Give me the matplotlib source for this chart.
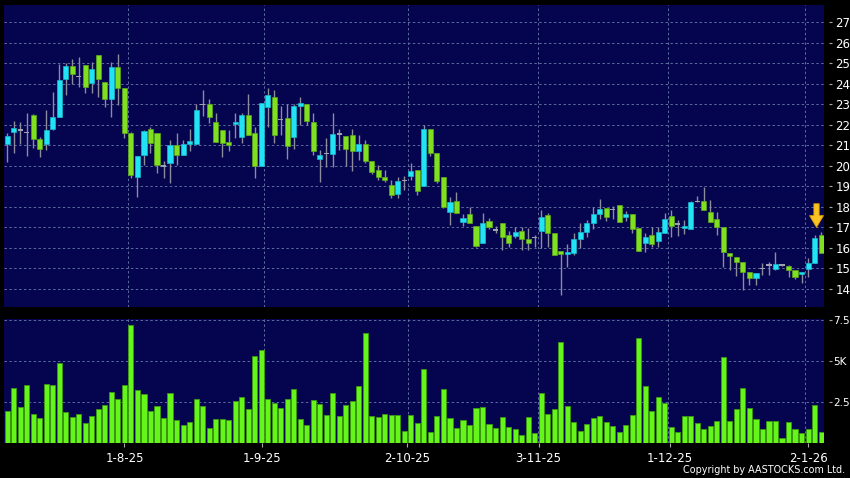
import numpy as np
import matplotlib
matplotlib.use('Agg')
import matplotlib.pyplot as plt

# daily OHLC, 8-Jul-25 .. 6-Jan-26
opens = [21.05, 21.63, 21.74, 21.63, 22.46, 21.29, 21.05, 21.81, 22.36, 24.22,
         24.87, 24.35, 24.92, 24.02, 25.40, 24.07, 23.24, 24.80, 23.78, 21.62,
         19.47, 20.53, 21.78, 21.58, 19.99, 20.12, 21.00, 20.51, 21.05, 21.05,
         23.00, 23.00, 22.12, 21.75, 21.18, 22.02, 21.39, 22.48, 21.62, 19.99,
         22.88, 23.37, 22.27, 22.32, 21.39, 22.92, 23.00, 22.15, 20.32, 20.61,
         20.58, 21.55, 21.45, 21.50, 20.74, 21.05, 20.23, 19.79, 19.47, 19.06,
         18.62, 19.27, 19.52, 19.79, 19.01, 21.78, 20.64, 19.47, 17.76, 18.30,
         17.27, 17.65, 17.08, 16.25, 17.31, 16.87, 17.19, 16.62, 16.59, 16.80,
         16.41, 16.51, 16.83, 17.60, 16.74, 15.84, 15.70, 15.76, 16.41, 16.75,
         17.19, 17.63, 17.96, 17.88, 18.07, 17.49, 17.63, 16.99, 16.25, 16.62,
         16.35, 16.71, 17.55, 17.16, 16.95, 16.90, 18.25, 18.30, 17.76, 17.39,
         17.03, 15.76, 15.57, 15.32, 14.84, 14.51, 14.98, 15.16, 14.98, 15.16,
         15.13, 14.92, 14.71, 14.99, 15.27, 16.62]
highs = [21.62, 22.20, 22.12, 22.56, 22.53, 21.39, 22.72, 23.62, 24.96, 25.00,
         25.19, 25.29, 24.92, 25.08, 25.40, 24.07, 25.08, 25.45, 23.78, 21.66,
         20.48, 21.75, 21.91, 21.58, 20.25, 21.26, 21.62, 21.26, 21.78, 23.00,
         23.70, 23.26, 22.56, 21.75, 21.75, 22.56, 22.56, 23.50, 21.91, 23.08,
         23.78, 23.70, 22.92, 23.02, 23.00, 23.34, 23.00, 22.56, 20.77, 21.34,
         22.59, 21.78, 21.45, 21.78, 21.50, 21.26, 20.23, 20.04, 19.79, 19.31,
         19.47, 19.50, 20.15, 19.79, 21.99, 21.78, 20.64, 19.47, 18.46, 18.74,
         17.65, 18.01, 17.08, 17.68, 17.47, 17.08, 17.19, 16.84, 17.03, 17.03,
         16.95, 16.62, 17.84, 17.71, 16.74, 15.84, 16.19, 16.74, 17.19, 17.36,
         17.97, 18.38, 17.96, 18.04, 18.07, 17.81, 17.63, 16.99, 16.71, 17.03,
         17.03, 17.68, 17.84, 17.36, 17.36, 18.30, 18.52, 18.98, 18.33, 17.76,
         17.03, 15.76, 15.57, 15.32, 14.84, 14.79, 15.24, 15.32, 15.81, 15.19,
         15.16, 14.92, 14.84, 15.49, 16.62, 16.79]
lows = [20.20, 20.64, 21.06, 20.48, 20.85, 20.45, 20.77, 21.75, 22.36, 23.45,
        23.99, 23.86, 23.57, 23.53, 23.37, 22.88, 22.40, 22.97, 21.34, 19.40,
        18.49, 20.04, 20.64, 19.63, 19.39, 19.18, 20.04, 20.51, 20.74, 21.05,
        22.43, 22.10, 21.18, 20.45, 20.74, 21.34, 21.10, 21.50, 19.39, 19.99,
        21.91, 21.10, 21.50, 20.32, 20.80, 21.99, 21.99, 20.53, 19.23, 19.93,
        19.93, 20.77, 19.99, 19.76, 20.28, 20.12, 19.60, 19.31, 19.23, 18.41,
        18.41, 18.82, 19.31, 18.58, 19.01, 20.48, 19.18, 17.92, 17.11, 17.68,
        17.06, 17.19, 16.05, 16.25, 16.90, 16.71, 15.89, 16.05, 16.46, 15.89,
        15.89, 16.05, 15.97, 16.05, 15.63, 13.70, 15.08, 15.65, 15.97, 16.54,
        16.90, 17.39, 17.32, 17.39, 17.27, 17.32, 16.71, 15.86, 15.81, 16.05,
        16.05, 16.71, 16.54, 16.58, 16.67, 16.90, 18.25, 17.84, 17.27, 16.62,
        15.05, 14.92, 14.62, 13.94, 14.19, 14.19, 14.67, 14.67, 14.92, 15.11,
        14.59, 14.50, 14.27, 14.59, 15.27, 15.73]
closes = [21.45, 21.83, 21.74, 21.63, 21.29, 20.80, 21.75, 22.39, 24.18, 24.87,
          24.46, 24.35, 23.86, 24.71, 24.22, 23.24, 24.80, 23.78, 21.62, 19.55,
          20.48, 21.70, 21.10, 20.04, 19.99, 21.00, 20.51, 21.05, 21.21, 22.72,
          23.00, 22.40, 21.18, 21.13, 21.03, 22.12, 22.48, 21.50, 19.99, 23.08,
          23.45, 21.50, 22.27, 20.97, 22.93, 23.05, 22.20, 20.74, 20.53, 20.61,
          21.55, 21.55, 20.80, 20.74, 21.05, 20.23, 19.71, 19.47, 19.31, 18.58,
          19.27, 19.27, 19.75, 18.77, 21.78, 20.64, 19.27, 18.01, 18.22, 17.68,
          17.44, 17.19, 16.09, 17.23, 17.00, 16.87, 16.54, 16.22, 16.75, 16.43,
          16.25, 16.51, 17.52, 16.71, 15.63, 15.70, 15.81, 16.41, 16.75, 17.19,
          17.63, 17.88, 17.49, 17.88, 17.27, 17.63, 16.90, 15.86, 16.51, 16.17,
          16.79, 17.39, 17.06, 17.16, 17.08, 18.25, 18.25, 17.84, 17.27, 17.00,
          15.81, 15.60, 15.32, 14.84, 14.51, 14.79, 14.98, 15.16, 15.22, 15.16,
          14.92, 14.56, 14.84, 15.27, 16.46, 15.76]
volumes = [1952, 3335, 2217, 3518, 1769, 1505, 3579, 3558, 4901, 1891,
           1606, 1749, 1200, 1667, 2074, 2298, 3131, 2684, 3518, 7218,
           3233, 2989, 1952, 2237, 1505, 3030, 1403, 1078, 1301, 2684,
           2257, 935, 1464, 1464, 1383, 2562, 2786, 2094, 5287, 5693,
           2680, 2460, 2145, 2684, 3294, 1443, 1119, 2623, 2359, 1688,
           3050, 1667, 2318, 2542, 3477, 6710, 1647, 1586, 1769, 1688,
           1688, 752, 1708, 1200, 4494, 671, 1667, 3294, 1545, 894,
           1423, 1098, 2135, 2176, 1179, 894, 1586, 976, 854, 508,
           1565, 610, 3050, 1769, 2053, 6182, 2257, 1281, 752, 1159,
           1545, 1627, 1261, 1037, 671, 1098, 1708, 6405, 3497, 1972,
           2806, 2420, 996, 651, 1627, 1627, 1200, 854, 1037, 1322,
           5246, 1322, 2053, 3375, 2135, 1484, 874, 1322, 1322, 325,
           1281, 834, 590, 874, 2338, 671]
date_ticks = [18, 39.2, 61.4, 81.6, 101.8, 123]
date_labels = ['1-8-25', '1-9-25', '2-10-25', '3-11-25', '1-12-25', '2-1-26']
month_lines = [18.5, 39.5, 61.5, 81.5, 101.5, 122.5]
price_ticks = list(range(14, 28))
vol_ticks = [2500, 5000, 7500]
vol_labels = ['2.5', '5K', '7.5']

o = np.array(opens); h = np.array(highs); l = np.array(lows); c = np.array(closes)
x = np.arange(len(o))

NAVY = '#04044f'
GRID = '#5d6d9e'
CYAN = '#22e3f3'
GREEN = '#80e020'
WICK = '#8c8c9c'

fig = plt.figure(figsize=(8.5, 4.78), dpi=100, facecolor='black')
ax = fig.add_axes([4/850, 1-306.7/478, 820/850, 301.7/478])
av = fig.add_axes([4/850, 1-443/478, 820/850, 123.7/478])

for a in (ax, av):
    a.set_facecolor(NAVY)
    for s in ('left', 'top', 'bottom'):
        a.spines[s].set_visible(False)
    a.spines['right'].set_position(('outward', 3.6))
    a.spines['right'].set_visible(False)
    a.yaxis.tick_right()
    a.tick_params(axis='y', colors='#aaaaaa', labelcolor='white', length=2.2,
                  width=0.8, pad=2.5, labelsize=8.5)
    for m in month_lines:
        a.axvline(m, color=GRID, lw=0.7, ls=(0, (2.5, 2.5)), zorder=1)
    a.set_xlim(-0.5, 125.45)

# price panel
for p in price_ticks:
    ax.axhline(p, color=GRID, lw=0.7, ls=(0, (2.5, 2.5)), zorder=1)
ax.vlines(x, l, h, color=WICK, lw=1, zorder=2)
up = c > o
dn = c < o
eq = c == o
ax.bar(x[up], (c - o)[up], bottom=o[up], width=0.78, color=CYAN,
       edgecolor='#17b8cc', lw=0.5, zorder=3)
ax.bar(x[dn], (c - o)[dn], bottom=o[dn], width=0.78, color=GREEN,
       edgecolor='#5aa818', lw=0.5, zorder=3)
ax.bar(x[eq], 0.06, bottom=o[eq] - 0.03, width=0.78, color='#a0a0b0',
       lw=0, zorder=3)
ax.set_ylim(13.13, 27.84)
ax.set_yticks(price_ticks)
ax.set_xticks([])

# latest-day marker
ax.annotate('', xy=(124.3, 17.0), xytext=(124.3, 18.15),
            arrowprops=dict(facecolor='#f8c423', edgecolor='#e09a00', lw=0.6,
                            width=3.8, headwidth=10, headlength=8.4, shrink=0),
            zorder=5)

# volume panel
for v in vol_ticks:
    av.axhline(v, color=GRID, lw=0.7, ls=(0, (2.5, 2.5)), zorder=1)
av.bar(x, volumes, width=0.78, color='#66f51a', edgecolor='#3c9a12', lw=0.6,
       zorder=3)
av.set_ylim(0, 7546)
av.set_yticks(vol_ticks)
av.set_yticklabels(vol_labels)
av.tick_params(axis='y', labelsize=7.6, pad=1)
av.set_xticks(date_ticks)
av.set_xticklabels(date_labels)
av.tick_params(axis='x', colors='#aaaaaa', labelcolor='white', length=3,
               width=0.8, pad=3.5, labelsize=8.5)

fig.text(845/850, 3/478, 'Copyright by AASTOCKS.com Ltd.', color='white',
         fontsize=6.9, ha='right', va='bottom')

fig.savefig('out.png', dpi=100, facecolor='black')
